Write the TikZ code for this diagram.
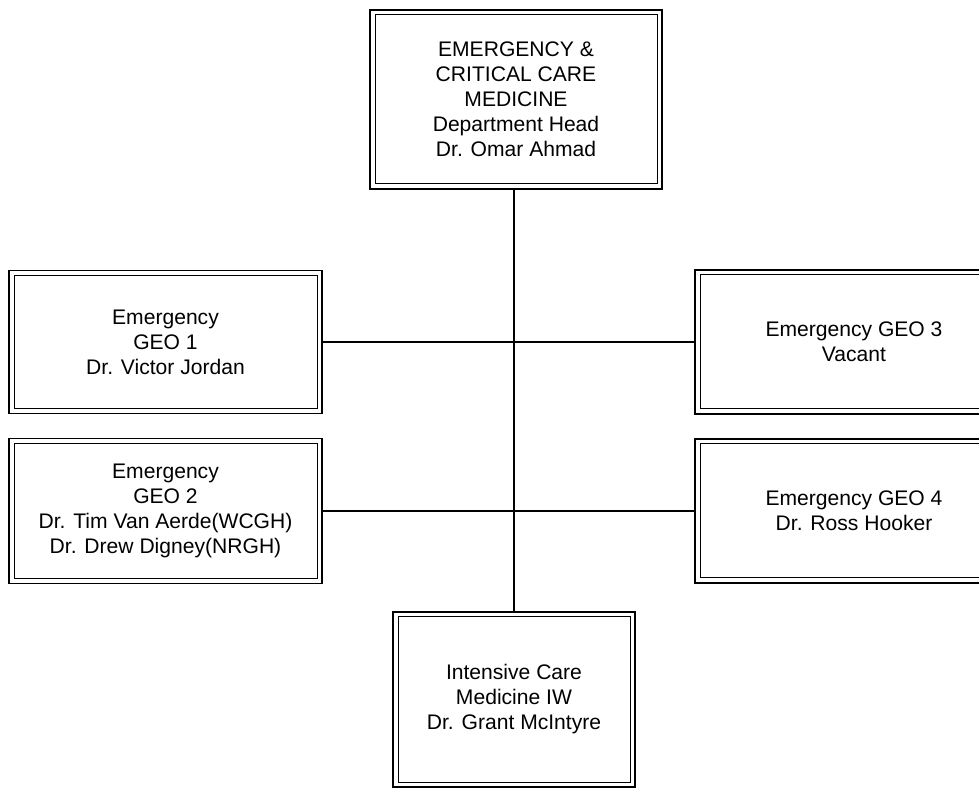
\documentclass[tikz,border=0pt]{standalone}
\usepackage{fontspec}
\setmainfont{Liberation Sans}
\tikzset{>=stealth}
\colorlet{background}{white}
\colorlet{penColor}{black}
\tikzset{
  box/.style={draw=penColor, fill=background, line width=1.4pt, align=center,
    inner sep=0pt, outer sep=0pt, font=\fontsize{15}{17.8}\selectfont,
    path picture={\draw[penColor, line width=0.7pt]
      ([shift={(0.125,-0.125)}]path picture bounding box.north west) rectangle
      ([shift={(-0.125,0.125)}]path picture bounding box.south east);}},
  link/.style={penColor, line width=1.4pt}
}

\begin{document}
\begin{tikzpicture}
    \useasboundingbox (0,0) rectangle (24.475,19.7);
      % department head
      \node[box, minimum width=7.3cm, minimum height=4.475cm] (head) at (12.9,17.2125)
        {EMERGENCY \&\\CRITICAL CARE\\MEDICINE\\Department Head\\Dr. Omar Ahmad};
      % emergency geos
      \node[box, minimum width=7.825cm, minimum height=3.575cm] (geoA) at (4.1375,11.15)
        {Emergency\\GEO 1\\Dr. Victor Jordan};
      \node[box, minimum width=7.95cm, minimum height=3.6cm] (geoC) at (21.35,11.15)
        {Emergency GEO 3\\Vacant};
      \node[box, minimum width=7.825cm, minimum height=3.625cm] (geoB) at (4.1375,6.925)
        {Emergency\\GEO 2\\Dr. Tim Van Aerde(WCGH)\\Dr. Drew Digney(NRGH)};
      \node[box, minimum width=7.95cm, minimum height=3.6cm] (geoD) at (21.35,6.925)
        {Emergency GEO 4\\Dr. Ross Hooker};
      % intensive care
      \node[box, minimum width=6.05cm, minimum height=4.375cm] (icm) at (12.85,2.2125)
        {Intensive Care\\Medicine IW\\Dr. Grant McIntyre};
      \draw[link] (icm.north) -- (icm.north |- head.south);
      \draw[link] (geoA.east) -- (geoC.west);
      \draw[link] (geoB.east) -- (geoD.west);
    \end{tikzpicture}
\end{document}
